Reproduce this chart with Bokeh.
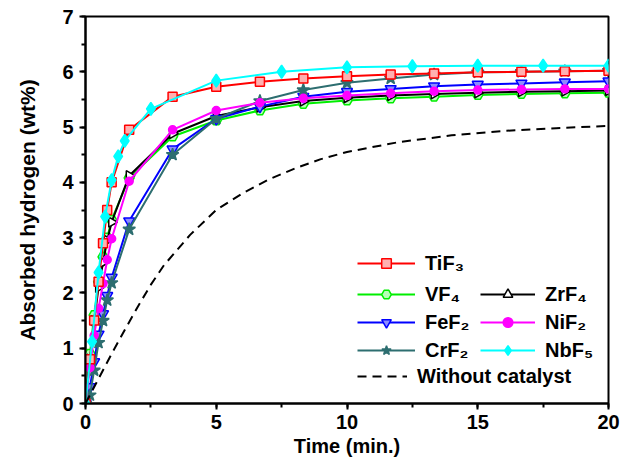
import numpy as np
from bokeh.plotting import figure
from bokeh.models import Range1d, SingleIntervalTicker, Legend, LegendItem
from bokeh.embed import file_html
from bokeh.resources import INLINE

# ---------------- data ----------------
t_cat = [0, 0.17, 0.33, 0.5, 0.67, 0.83, 1.0, 1.67, 3.33, 5.0, 6.67, 8.33,
         10.0, 11.67, 13.33, 15.0, 16.67, 18.33, 20.0]
tif3 = [0, 0.8, 1.5, 2.2, 2.9, 3.5, 4.0, 4.95, 5.55, 5.73, 5.82, 5.88,
        5.92, 5.95, 5.97, 5.99, 6.0, 6.01, 6.02]
vf4 = [0, 0.9, 1.6, 2.2, 2.65, 3.0, 3.32, 4.08, 4.83, 5.12, 5.30, 5.42,
       5.48, 5.52, 5.55, 5.58, 5.60, 5.61, 5.62]
zrf4 = [0, 0.8, 1.5, 2.1, 2.55, 2.95, 3.28, 4.12, 4.88, 5.20, 5.36, 5.47,
        5.53, 5.57, 5.60, 5.62, 5.64, 5.65, 5.66]
fef2 = [0, 0.3, 0.75, 1.25, 1.62, 1.95, 2.28, 3.30, 4.60, 5.15, 5.37, 5.55,
        5.64, 5.69, 5.74, 5.77, 5.79, 5.81, 5.83]
nif2 = [0, 0.65, 1.23, 1.72, 2.17, 2.6, 2.98, 4.02, 4.95, 5.30, 5.44, 5.52,
        5.57, 5.61, 5.65, 5.67, 5.68, 5.69, 5.69]
crf2 = [0, 0.15, 0.6, 1.1, 1.5, 1.87, 2.18, 3.15, 4.50, 5.15, 5.47, 5.67,
        5.80, 5.88, 5.95, 5.99, 6.0, 6.01, 6.02]
t_nb = [0, 0.25, 0.5, 0.75, 1.0, 1.25, 1.5, 2.5, 5.0, 7.5, 10.0, 12.5, 15.0, 17.5, 20.0]
nbf5 = [0, 1.12, 2.37, 3.38, 4.04, 4.47, 4.75, 5.33, 5.84, 6.00, 6.08, 6.10, 6.11, 6.11, 6.11]
t_none = [0, 0.5, 1, 1.5, 2, 2.5, 3, 4, 5, 6, 7, 8, 9, 10, 12, 14, 16, 18, 20]
none = [0, 0.45, 0.9, 1.33, 1.75, 2.15, 2.5, 3.05, 3.5, 3.8, 4.05, 4.25, 4.42,
        4.55, 4.73, 4.85, 4.93, 4.98, 5.02]

x_ticks = [0, 5, 10, 15, 20]
y_ticks = [0, 1, 2, 3, 4, 5, 6, 7]

FONT = "Liberation Sans"

p = figure(width=629, height=467, output_backend="svg", toolbar_location=None,
           x_range=Range1d(0, 20), y_range=Range1d(0, 7),
           min_border_left=85, min_border_right=21, min_border_top=16,
           min_border_bottom=64)
p.grid.visible = False
p.outline_line_color = "black"
p.outline_line_width = 2
p.background_fill_color = "white"
p.border_fill_color = "white"

p.xaxis.ticker = SingleIntervalTicker(interval=5, num_minor_ticks=2)
p.yaxis.ticker = SingleIntervalTicker(interval=1, num_minor_ticks=2)
for ax in (p.xaxis, p.yaxis):
    ax.axis_line_width = 2
    ax.major_tick_line_width = 2
    ax.minor_tick_line_width = 2
    ax.major_tick_in = 0
    ax.major_tick_out = 6
    ax.minor_tick_in = 0
    ax.minor_tick_out = 4
    ax.major_label_text_font = FONT
    ax.major_label_text_font_style = "bold"
    ax.major_label_text_font_size = "20px"
    ax.major_label_text_color = "black"
    ax.axis_label_text_font = FONT
    ax.axis_label_text_font_style = "bold"
    ax.axis_label_text_color = "black"
p.xaxis.axis_label = "Time (min.)"
p.yaxis.axis_label = "Absorbed hydrogen (wt%)"
p.xaxis.axis_label_text_font_size = "20px"
p.yaxis.axis_label_text_font_size = "21px"
p.xaxis.major_label_standoff = 5
p.yaxis.major_label_standoff = 6
p.xaxis.axis_label_standoff = 3
p.yaxis.axis_label_standoff = 20

series = {}


def add(name, t, v, color, marker, fill, size, angle=0.0, lw=2):
    ln = p.line(t, v, line_color=color, line_width=lw)
    sc = p.scatter(t, v, marker=marker, size=size, line_color=color,
                   fill_color=fill, line_width=1.5, angle=angle)
    series[name] = [ln, sc]


add("VF4", t_cat, vf4, "#00ee00", "hex", "#b8ffb8", 10)
add("ZrF4", t_cat, zrf4, "black", "triangle", "white", 10, angle=-np.pi / 2)
add("FeF2", t_cat, fef2, "#0000ff", "inverted_triangle", "#8c8cff", 11)
add("CrF2", t_cat, crf2, "#2d6e70", "star", "#2d6e70", 13)
add("NiF2", t_cat, nif2, "#ff00ff", "circle", "#ff00ff", 8)
add("TiF3", t_cat, tif3, "#ff0000", "square", "#ffb0b0", 9)
add("NbF5", t_nb, nbf5, "#00ffff", "diamond", "#00ffff", 13)

dash = p.line(t_none, none, line_color="black", line_width=2, line_dash="9 6")


def mk_legend(items, loc, gw=58):
    lg = Legend(items=items, location=loc, orientation="vertical",
                label_text_font=FONT, label_text_font_style="bold",
                label_text_font_size="20px", label_text_color="black",
                glyph_width=gw, glyph_height=24, label_height=24,
                label_standoff=10, spacing=4, padding=0, margin=0,
                border_line_alpha=0, background_fill_alpha=0)
    p.add_layout(lg, "center")


mk_legend([LegendItem(label="TiF\u2083", renderers=series["TiF3"])], (272, 128))
mk_legend([LegendItem(label="VF\u2084", renderers=series["VF4"]),
           LegendItem(label="FeF\u2082", renderers=series["FeF2"]),
           LegendItem(label="CrF\u2082", renderers=series["CrF2"])], (272, 41))
mk_legend([LegendItem(label="ZrF\u2084", renderers=series["ZrF4"]),
           LegendItem(label="NiF\u2082", renderers=series["NiF2"]),
           LegendItem(label="NbF\u2085", renderers=series["NbF5"])], (395, 41), gw=55)
mk_legend([LegendItem(label="Without catalyst", renderers=[dash])], (272, 15), gw=50)

open("out.html", "w").write(file_html(p, INLINE))
